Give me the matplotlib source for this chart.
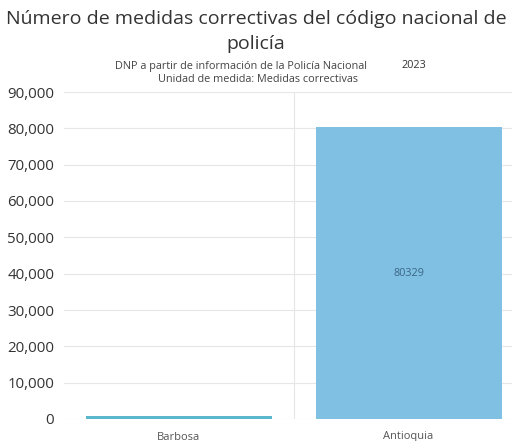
import matplotlib
matplotlib.use("Agg")
import matplotlib.pyplot as plt
from matplotlib.ticker import FuncFormatter

# data
categorias = ["Barbosa", "Antioquia"]
valores = [750, 80329]
colores = ["#5bb8cc", "#80c1e3"]
etiqueta_valor = ["", "80329"]

plt.rcParams['font.family'] = ['Open Sans', 'DejaVu Sans']

fig = plt.figure(figsize=(5.12, 4.41), dpi=100)
ax = fig.add_axes([64/512, 1 - 419/441, 448/512, (419 - 92)/441])

x = list(range(len(categorias)))
bars = ax.bar(x, valores, width=0.81, color=colores, zorder=2)
for b, t in zip(bars, etiqueta_valor):
    if t:
        ax.text(b.get_x() + b.get_width()/2, b.get_height()/2, t,
                ha="center", va="center", fontsize=7.8, color="#3d6585")

ax.set_ylim(0, 90000)
ax.set_xlim(-0.5, 1.45)
ax.set_yticks(range(0, 90001, 10000))
ax.yaxis.set_major_formatter(FuncFormatter(lambda v, p: f"{int(v):,}"))
ax.set_xticks(x)
ax.set_xticklabels(categorias, fontsize=8, color="#555555")
ax.tick_params(axis="y", labelsize=10.8, colors="#333333", length=0, pad=7)
ax.tick_params(axis="x", length=0, pad=9)
ax.grid(axis="y", color="#e6e6e6", linewidth=0.8, zorder=0)
ax.axvline(0.5, color="#e6e6e6", linewidth=0.8, zorder=0)
for s in ax.spines.values():
    s.set_visible(False)

fig.text(0.5, 1 - 19/441, "Número de medidas correctivas del código nacional de",
         ha="center", va="center", fontsize=14, color="#333333")
fig.text(0.5, 1 - 44/441, "policía", ha="center", va="center",
         fontsize=14, color="#333333")
fig.text(241/512, 1 - 66/441, "DNP a partir de información de la Policía Nacional",
         ha="center", va="center", fontsize=7.8, color="#444444")
fig.text(414/512, 1 - 66/441, "2023", ha="center", va="center",
         fontsize=7.8, color="#333333")
fig.text(258/512, 1 - 79/441, "Unidad de medida: Medidas correctivas",
         ha="center", va="center", fontsize=7.8, color="#444444")

fig.savefig("out.png", dpi=100)
